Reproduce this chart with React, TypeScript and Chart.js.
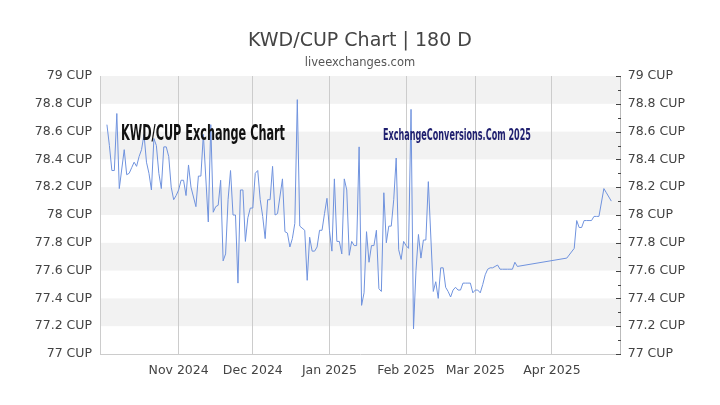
import React, { useEffect, useRef } from "react";
import { Chart, registerables } from "chart.js";

Chart.register(...registerables);

// ---------- DATA ----------
const dates: string[] = [
  "2024-10-03", "2024-10-04", "2024-10-05", "2024-10-06", "2024-10-07", "2024-10-08",
  "2024-10-10", "2024-10-11", "2024-10-12", "2024-10-13", "2024-10-14", "2024-10-15",
  "2024-10-16", "2024-10-17", "2024-10-18", "2024-10-19", "2024-10-20", "2024-10-21",
  "2024-10-22", "2024-10-23", "2024-10-24", "2024-10-25", "2024-10-26", "2024-10-27",
  "2024-10-28", "2024-10-29", "2024-10-30", "2024-10-31",
  "2024-11-01", "2024-11-02", "2024-11-03", "2024-11-04", "2024-11-05", "2024-11-06",
  "2024-11-08", "2024-11-09", "2024-11-10", "2024-11-11", "2024-11-13", "2024-11-14",
  "2024-11-15", "2024-11-16", "2024-11-17", "2024-11-18", "2024-11-19", "2024-11-20",
  "2024-11-21", "2024-11-22", "2024-11-23", "2024-11-24", "2024-11-25", "2024-11-26",
  "2024-11-27", "2024-11-28", "2024-11-29", "2024-11-30",
  "2024-12-01", "2024-12-02", "2024-12-03", "2024-12-04", "2024-12-05", "2024-12-06",
  "2024-12-07", "2024-12-08", "2024-12-09", "2024-12-10", "2024-12-11", "2024-12-13",
  "2024-12-14", "2024-12-15", "2024-12-16", "2024-12-17", "2024-12-18", "2024-12-19",
  "2024-12-20", "2024-12-22", "2024-12-23", "2024-12-24", "2024-12-25", "2024-12-26",
  "2024-12-27", "2024-12-28", "2024-12-29", "2024-12-30", "2024-12-31",
  "2025-01-01", "2025-01-02", "2025-01-03", "2025-01-04", "2025-01-05", "2025-01-06",
  "2025-01-07", "2025-01-08", "2025-01-09", "2025-01-10", "2025-01-11", "2025-01-12",
  "2025-01-13", "2025-01-14", "2025-01-15", "2025-01-16", "2025-01-17", "2025-01-18",
  "2025-01-19", "2025-01-20", "2025-01-21", "2025-01-22", "2025-01-23", "2025-01-24",
  "2025-01-25", "2025-01-26", "2025-01-27", "2025-01-28", "2025-01-29", "2025-01-30",
  "2025-01-31",
  "2025-02-01", "2025-02-02", "2025-02-03", "2025-02-04", "2025-02-05", "2025-02-06",
  "2025-02-07", "2025-02-08", "2025-02-09", "2025-02-10", "2025-02-12", "2025-02-13",
  "2025-02-14", "2025-02-15", "2025-02-16", "2025-02-17", "2025-02-18", "2025-02-19",
  "2025-02-20", "2025-02-21", "2025-02-22", "2025-02-23", "2025-02-24", "2025-02-25",
  "2025-02-26", "2025-02-27", "2025-02-28",
  "2025-03-01", "2025-03-02", "2025-03-03", "2025-03-04", "2025-03-05", "2025-03-06",
  "2025-03-07", "2025-03-08", "2025-03-09", "2025-03-10", "2025-03-11", "2025-03-12",
  "2025-03-13", "2025-03-14", "2025-03-15", "2025-03-16", "2025-03-17", "2025-03-18",
  "2025-04-07", "2025-04-10", "2025-04-11", "2025-04-12", "2025-04-13", "2025-04-14",
  "2025-04-15", "2025-04-16", "2025-04-17", "2025-04-18", "2025-04-19", "2025-04-20",
  "2025-04-22", "2025-04-23", "2025-04-25",
];

const rates: number[] = [
  78.65, 78.5, 78.32, 78.32, 78.73, 78.19,
  78.47, 78.29, 78.3, 78.34, 78.38, 78.35,
  78.42, 78.47, 78.58, 78.38, 78.3, 78.18,
  78.55, 78.5, 78.3, 78.19, 78.49, 78.49,
  78.42, 78.2, 78.11, 78.14,
  78.18, 78.25, 78.25, 78.14, 78.36, 78.2,
  78.06, 78.28, 78.28, 78.58, 77.95, 78.65,
  78.02, 78.06, 78.07, 78.25, 77.67, 77.72,
  78.11, 78.32, 78.0, 78.0, 77.51, 78.18,
  78.18, 77.81, 77.98, 78.05,
  78.05, 78.3, 78.32, 78.11, 77.99, 77.83,
  78.11, 78.11, 78.35, 78.0, 78.01, 78.26,
  77.88, 77.87, 77.77, 77.83, 77.94, 78.83,
  77.92, 77.89, 77.53, 77.84, 77.74, 77.74,
  77.77, 77.89, 77.89, 78.01, 78.12,
  77.89, 77.74, 78.26, 77.81, 77.81, 77.72,
  78.26, 78.18, 77.71, 77.81, 77.78, 77.78,
  78.49, 77.35, 77.44, 77.88, 77.66, 77.78,
  77.78, 77.89, 77.47, 77.45, 78.16, 77.8,
  77.92, 77.92, 78.11, 78.41, 77.75, 77.68,
  77.81,
  77.78, 77.76, 78.76, 77.18, 77.6, 77.86,
  77.69, 77.82, 77.82, 78.24, 77.45, 77.52,
  77.4, 77.62, 77.62, 77.48, 77.45, 77.41,
  77.46, 77.48, 77.46, 77.46, 77.51, 77.51,
  77.51, 77.51, 77.44,
  77.46, 77.46, 77.44, 77.5, 77.57, 77.61,
  77.62, 77.62, 77.63, 77.64, 77.61, 77.61,
  77.61, 77.61, 77.61, 77.61, 77.66, 77.63,
  77.69, 77.76, 77.96, 77.91, 77.91, 77.96,
  77.96, 77.96, 77.96, 77.99, 77.99, 77.99,
  78.19, 78.16, 78.1,
];

const xTickDates: string[] = ["2024-11-01", "2024-12-01", "2025-01-01", "2025-02-01", "2025-03-01", "2025-04-01"];
const xTickLabels: string[] = ["Nov 2024", "Dec 2024", "Jan 2025", "Feb 2025", "Mar 2025", "Apr 2025"];
const yTickValues: number[] = [77, 77.2, 77.4, 77.6, 77.8, 78, 78.2, 78.4, 78.6, 78.8, 79];
const yMinorTickValues: number[] = [77.1, 77.3, 77.5, 77.7, 77.9, 78.1, 78.3, 78.5, 78.7, 78.9];
const unitLabel = "CUP";
const titleText = "KWD/CUP Chart | 180 D";
const subtitleText = "liveexchanges.com";
const watermarkLeft = "KWD/CUP Exchange Chart";
const watermarkRight = "ExchangeConversions.Com 2025";

// ---------- helpers ----------
const ORIGIN = Date.UTC(2024, 9, 1);
const dayOf = (s: string) => {
  const [y, m, d] = s.split("-").map(Number);
  return (Date.UTC(y, m - 1, d) - ORIGIN) / 86400000;
};
const fmtY = (v: number) => `${parseFloat(Number(v).toFixed(1))} ${unitLabel}`;

const FONT = "'DejaVu Sans', Verdana, sans-serif";

function drawFitted(
  ctx: CanvasRenderingContext2D,
  text: string,
  font: string,
  color: string,
  x: number,
  yMid: number,
  width: number
) {
  ctx.save();
  ctx.font = font;
  const w = ctx.measureText(text).width;
  ctx.translate(x, yMid);
  ctx.scale(width / w, 1);
  ctx.fillStyle = color;
  ctx.textBaseline = "middle";
  ctx.textAlign = "left";
  ctx.fillText(text, 0, 0);
  ctx.restore();
}

const bandsPlugin = {
  id: "bands",
  beforeDraw(chart: any) {
    const { ctx, chartArea } = chart;
    const y = chart.scales.y;
    ctx.save();
    ctx.fillStyle = "#f2f2f2";
    for (let i = 0; i < yTickValues.length - 1; i++) {
      if (i % 2 === 1) {
        const top = y.getPixelForValue(yTickValues[i + 1]);
        const bot = y.getPixelForValue(yTickValues[i]);
        ctx.fillRect(chartArea.left, top, chartArea.right - chartArea.left, bot - top);
      }
    }
    ctx.restore();
  },
};

const decorPlugin = {
  id: "decor",
  afterDraw(chart: any) {
    const { ctx, chartArea } = chart;
    const y = chart.scales.y;
    ctx.save();
    // title
    ctx.textAlign = "center";
    ctx.textBaseline = "middle";
    ctx.fillStyle = "#444";
    ctx.font = `19px ${FONT}`;
    ctx.fillText(titleText, 360, 41);
    ctx.fillStyle = "#555";
    ctx.font = `11.5px ${FONT}`;
    ctx.fillText(subtitleText, 360, 63);

    // right axis ticks (inward)
    ctx.strokeStyle = "#444";
    ctx.lineWidth = 1;
    const r = Math.round(chartArea.right);
    ctx.beginPath();
    yTickValues.forEach((v) => {
      const py = Math.round(y.getPixelForValue(v)) + 0.5;
      ctx.moveTo(r - 5, py);
      ctx.lineTo(r, py);
    });
    yMinorTickValues.forEach((v) => {
      const py = Math.round(y.getPixelForValue(v)) + 0.5;
      ctx.moveTo(r - 3, py);
      ctx.lineTo(r, py);
    });
    ctx.stroke();
    ctx.restore();

    // watermarks
    drawFitted(
      ctx,
      watermarkLeft,
      `bold 21px 'Liberation Sans Narrow', 'DejaVu Sans Condensed', sans-serif`,
      "#111",
      121,
      135,
      164
    );
    drawFitted(
      ctx,
      watermarkRight,
      `bold 15px 'Liberation Sans Narrow', 'DejaVu Sans Condensed', sans-serif`,
      "#1f1f6f",
      383,
      136,
      148
    );
  },
};

export default function App() {
  const ref = useRef<HTMLCanvasElement | null>(null);

  useEffect(() => {
    document.body.style.margin = "0";
    const canvas = ref.current;
    if (!canvas) return;
    const points = dates.map((d, i) => ({ x: dayOf(d), y: rates[i] }));
    const xTicks = xTickDates.map(dayOf);

    const yAxisCommon = {
      type: "linear" as const,
      min: yTickValues[0],
      max: yTickValues[yTickValues.length - 1],
      grid: { display: false, drawTicks: false },
      afterBuildTicks: (s: any) => {
        s.ticks = yTickValues.map((v) => ({ value: v }));
      },
    };

    const chart = new Chart(canvas, {
      type: "line",
      data: {
        datasets: [
          {
            data: points,
            borderColor: "#7093de",
            borderWidth: 1,
            pointRadius: 0,
            pointHoverRadius: 0,
            fill: false,
            tension: 0,
            yAxisID: "y",
          },
        ],
      },
      options: {
        animation: false,
        responsive: true,
        maintainAspectRatio: false,
        parsing: false as any,
        normalized: true,
        layout: { padding: { top: 76, left: 0, right: 0, bottom: 0 } },
        plugins: {
          legend: { display: false },
          title: { display: false },
          tooltip: { enabled: false },
        },
        scales: {
          x: {
            type: "linear",
            min: -0.8,
            max: 209.8,
            afterBuildTicks: (s: any) => {
              s.ticks = xTicks.map((v) => ({ value: v }));
            },
            afterFit: (s: any) => {
              s.height = 51;
            },
            grid: { color: "#cccccc", drawTicks: false, lineWidth: 1 },
            border: { display: true, color: "#cccccc" },
            ticks: {
              autoSkip: false,
              maxRotation: 0,
              padding: 9,
              color: "#444",
              font: { family: FONT, size: 12.5 },
              callback: (_v: any, i: number) => xTickLabels[i],
            },
          },
          y: {
            ...yAxisCommon,
            position: "left",
            afterFit: (s: any) => {
              s.width = 100;
            },
            border: { display: true, color: "#cccccc" },
            ticks: {
              padding: 8,
              color: "#444",
              font: { family: FONT, size: 12.5 },
              callback: (v: any) => fmtY(v),
            },
          },
          y2: {
            ...yAxisCommon,
            position: "right",
            afterFit: (s: any) => {
              s.width = 99.3;
            },
            border: { display: true, color: "#bbbbbb" },
            ticks: {
              padding: 7,
              color: "#444",
              font: { family: FONT, size: 12.5 },
              callback: (v: any) => fmtY(v),
            },
          },
        },
      },
      plugins: [bandsPlugin, decorPlugin],
    } as any);

    return () => chart.destroy();
  }, []);

  return (
    <div style={{ width: 720, height: 405, position: "relative" }}>
      <canvas ref={ref} />
    </div>
  );
}
